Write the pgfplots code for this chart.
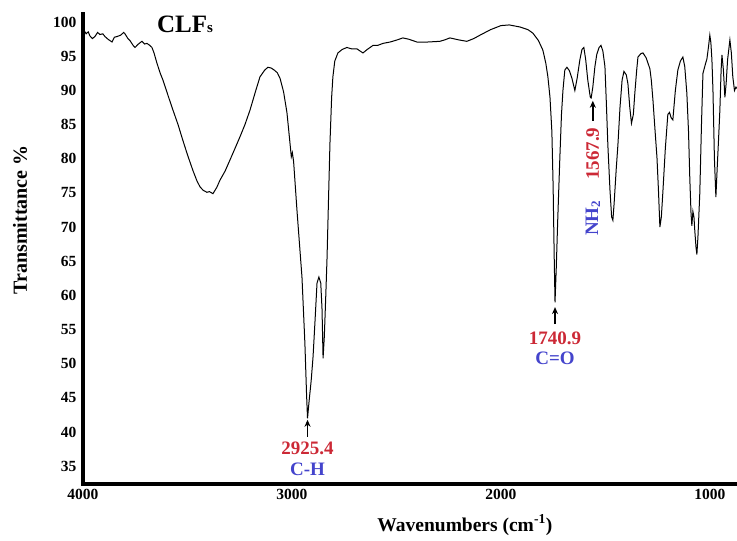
\documentclass[border=0pt]{standalone}
\usepackage{fontspec}
\setmainfont{Liberation Serif}
\usepackage{pgfplots}
\pgfplotsset{compat=1.18}
\usetikzlibrary{arrows.meta}
\definecolor{annred}{RGB}{204,41,54}
\definecolor{annblue}{RGB}{68,68,204}
\begin{document}
\begin{tikzpicture}
\begin{axis}[
  name=ax, at={(0,0)}, anchor=south west,
  scale only axis, width=654pt, height=470pt,
  x dir=reverse, xmin=870, xmax=4000,
  ymin=32.4, ymax=101.2,
  axis line style={draw=none},
  xtick={4000,3000,2000,1000},
  ytick={35,40,...,100},
  major tick length=0pt,
  tick style={draw=none},
  /pgf/number format/assume math mode=true,
  /pgf/number format/set thousands separator={},
  ticklabel style={font=\fontsize{15.5}{16}\selectfont\bfseries},
  yticklabel style={xshift=-3pt},
  xticklabel style={yshift=-2pt},
  clip=false,
]
\draw[line width=3.5pt, line join=miter, line cap=rect] (rel axis cs:0,1) -- (rel axis cs:0,0) -- (rel axis cs:1,0);
\addplot[black, line width=1pt, mark=none] table {
3995 98.8
3985 98.3
3975 98.6
3967 98.0
3955 97.6
3943 97.9
3930 98.5
3919 98.2
3905 98.3
3895 97.9
3880 97.5
3861 97.1
3850 97.8
3837 97.9
3820 98.1
3805 98.5
3799 98.3
3785 97.6
3775 97.3
3760 96.6
3751 96.3
3735 96.8
3718 97.2
3705 96.8
3694 96.9
3680 96.6
3670 96.3
3660 95.5
3646 94.0
3630 92.5
3617 91.5
3590 89.0
3569 87.1
3545 85.0
3522 82.7
3500 80.6
3474 78.3
3455 76.8
3440 75.9
3425 75.4
3407 75.1
3395 75.2
3378 74.9
3360 75.8
3344 76.9
3320 78.2
3297 79.8
3270 81.7
3249 83.2
3225 85.0
3201 87.1
3175 89.8
3153 92.0
3130 93.0
3115 93.4
3100 93.3
3085 93.0
3070 92.6
3057 91.8
3040 89.8
3024 86.8
3010 82.5
3003 80.3
2998 80.9
2992 79.6
2985 76.5
2976 72.5
2965 68.0
2952 62.7
2938 53.0
2930 45.5
2925.4 42.0
2918 44.5
2908 47.5
2899 51.0
2890 56.0
2880 61.8
2871 62.7
2862 61.8
2856 58.0
2851 50.8
2845 54.0
2838 60.0
2832 65.5
2825 74.0
2818 82.3
2810 89.0
2804 92.0
2795 94.3
2780 95.5
2760 96.0
2737 96.3
2715 96.1
2689 96.1
2670 95.7
2660 95.5
2640 96.0
2612 96.6
2590 96.6
2564 96.9
2530 97.1
2497 97.4
2469 97.7
2440 97.5
2402 97.1
2350 97.1
2292 97.2
2270 97.4
2244 97.7
2200 97.4
2163 97.2
2130 97.6
2100 98.1
2050 98.9
2000 99.5
1960 99.6
1909 99.3
1870 98.9
1847 98.4
1820 97.3
1799 95.9
1785 94.0
1775 92.0
1765 89.0
1756 84.0
1750 76.0
1745 66.0
1740.9 59.0
1735 64.0
1728 71.0
1718 80.0
1710 86.5
1703 90.0
1694 93.0
1684 93.4
1672 92.9
1660 91.8
1646 90.0
1635 91.8
1622 94.5
1612 96.0
1603 96.3
1594 94.5
1584 91.5
1572 89.0
1567.9 88.9
1560 90.5
1550 93.5
1541 95.3
1530 96.3
1521 96.6
1512 95.8
1502 93.5
1495 88.0
1488 82.0
1478 75.5
1470 71.5
1464 71.0
1458 73.5
1448 78.5
1440 82.0
1430 87.5
1420 91.5
1411 92.8
1400 92.3
1392 91.0
1383 87.5
1375 85.2
1366 86.5
1359 89.6
1350 93.0
1344 94.9
1330 95.4
1320 95.5
1305 94.8
1287 93.2
1280 91.5
1272 88.5
1263 84.5
1253 80.2
1246 75.5
1239 70.0
1232 71.5
1225 75.0
1213 81.5
1201 86.5
1193 86.8
1185 86.0
1177 85.7
1165 90.0
1153 93.0
1141 94.3
1129 94.9
1120 93.5
1110 89.6
1102 84.0
1096 77.3
1090 72.0
1086 70.2
1081 72.3
1076 71.5
1072 69.5
1066 67.0
1062 66.0
1057 68.5
1048 75.0
1040 85.0
1033 92.5
1020 94.0
1014 94.6
1006 96.5
1000 98.1
995 97.0
990 94.5
985 90.0
978 80.0
971 74.4
965 78.5
958 83.0
952 87.1
946 93.0
942 95.2
935 93.0
928 89.0
922 91.0
915 94.5
904 97.4
897 95.5
890 92.0
882 90.0
875 90.5
870 90.3
};
% title
\node[anchor=base west, inner sep=0pt] at (axis cs:3646,98.5)
  {\bfseries\fontsize{25}{25}\selectfont CLF\fontsize{15}{15}\selectfont s};
% annotations
\tikzset{annarrow/.style={-{Stealth[length=7pt,width=6pt]}, line width=1.8pt}}
\draw[annarrow] (axis cs:2925.4,39.3) -- (axis cs:2925.4,41.8);
\node[annred, font=\fontsize{19}{19}\selectfont\bfseries] at (axis cs:2925.4,37.6) {2925.4};
\node[annblue, font=\fontsize{19}{19}\selectfont\bfseries] at (axis cs:2925.4,34.6) {C-H};
\draw[annarrow] (axis cs:1740.9,55.8) -- (axis cs:1740.9,58.3);
\node[annred, font=\fontsize{19}{19}\selectfont\bfseries] at (axis cs:1740.9,53.7) {1740.9};
\node[annblue, font=\fontsize{19}{19}\selectfont\bfseries] at (axis cs:1740.9,50.8) {C=O};
\draw[annarrow] (axis cs:1560,85.6) -- (axis cs:1560,88.5);
\node[annred, rotate=90, font=\fontsize{19}{19}\selectfont\bfseries] at (axis cs:1560,80.75) {1567.9};
\node[annblue, rotate=90, font=\fontsize{19}{19}\selectfont\bfseries] at (axis cs:1560,71.3) {NH{\fontsize{13}{13}\selectfont\raisebox{-0.15em}{2}}};
% axis labels
\node[rotate=90, font=\fontsize{20}{20}\selectfont\bfseries] at ([xshift=-63pt]rel axis cs:0,0.562) {Transmittance \%};
\node[font=\fontsize{19.5}{20}\selectfont\bfseries] at ([yshift=-41pt]rel axis cs:0.584,0) {Wavenumbers (cm\textsuperscript{-1})};
\end{axis}
\pgfresetboundingbox
\path ([xshift=-83pt,yshift=-57pt]ax.south west) rectangle ([yshift=14pt]ax.north east);
\end{tikzpicture}
\end{document}
